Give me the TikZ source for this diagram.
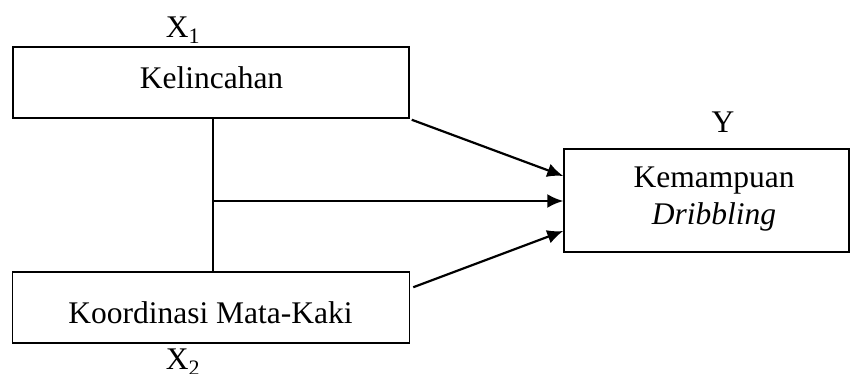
\documentclass[tikz,border=0pt]{standalone}
\usepackage{fontspec}
\setmainfont{Liberation Serif}
\usetikzlibrary{arrows.meta,calc}
\begin{document}
\begin{tikzpicture}[x=1pt,y=-1pt,
  box/.style={draw,line width=1.5pt,rectangle,inner sep=0pt},
  lbl/.style={anchor=base,inner sep=0pt,font=\fontsize{31.5}{38}\selectfont},
  arr/.style={line width=2.2pt,-{Latex[length=16pt,width=14pt]}},
  conn/.style={line width=1.5pt}]
\useasboundingbox (0,0) rectangle (850,374);
\clip (0,0) rectangle (850,374);
% boxes
\node[box,minimum width=396pt,minimum height=71pt] (b1) at (211,82.5) {};
\node[box,minimum width=397pt,minimum height=71pt] (b2) at (211,307.5) {};
\node[box,minimum width=285pt,minimum height=103pt] (yb) at (706.5,200.5) {};
% texts
\node[lbl] (t1) at (211.5,89) {Kelincahan};
\node[lbl] (t2) at (210.5,323) {Koordinasi Mata-Kaki};
\node[lbl] (ty1) at (714,187) {Kemampuan};
\node[lbl] (ty2) at (714,224) {\textit{Dribbling}};
\node[lbl] (x1) at (183,38) {X\textsubscript{1}};
\node[lbl] (x2) at (183,369) {X\textsubscript{2}};
\node[lbl] (yl) at (723,133) {Y};
% connectors
\coordinate (vx) at (213,201);
\draw[conn] (b1.south -| vx) -- (b2.north -| vx);
\draw[arr] (vx) -- (yb.west |- vx);
\coordinate (s1) at ([xshift=2pt,yshift=-1pt]b1.south east);
\draw[arr] (s1) -- ([yshift=24.5pt]yb.west);
\coordinate (s3) at ([xshift=3pt,yshift=-16pt]b2.north east);
\draw[arr] (s3) -- ([yshift=-30.5pt]yb.west);
\end{tikzpicture}
\end{document}
